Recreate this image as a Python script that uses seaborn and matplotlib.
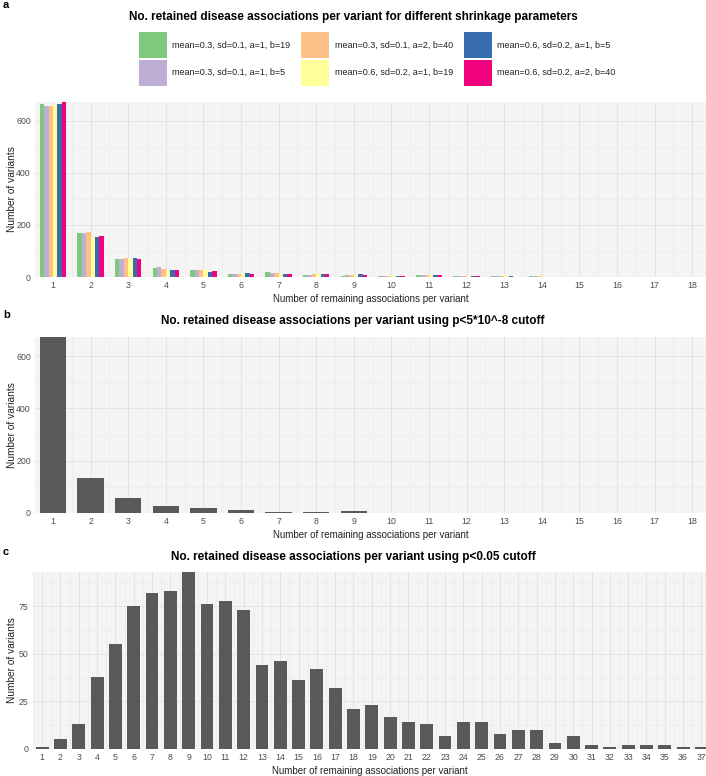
import numpy as np
import pandas as pd
import matplotlib
matplotlib.use("Agg")
import matplotlib.pyplot as plt
import seaborn as sns
from matplotlib.patches import Patch
from matplotlib.ticker import MultipleLocator

# ---------------- data ----------------
params = ["mean=0.3, sd=0.1, a=1, b=19", "mean=0.3, sd=0.1, a=1, b=5",
          "mean=0.3, sd=0.1, a=2, b=40", "mean=0.6, sd=0.2, a=1, b=19",
          "mean=0.6, sd=0.2, a=1, b=5", "mean=0.6, sd=0.2, a=2, b=40"]
param_colors = ["#7FC97F", "#BEAED4", "#FDC086", "#FFFF99", "#386CB0", "#F0027F"]

assoc_ab = list(range(1, 19))
m03_a1_b19 = [665, 170, 70, 36, 27, 10, 19, 9, 5, 4, 6, 5, 5, 4, 0, 0, 0, 1]
m03_a1_b5 = [658, 170, 70, 40, 25, 10, 17, 9, 6, 2, 8, 5, 4, 4, 1, 0, 0, 1]
m03_a2_b40 = [658, 174, 74, 32, 27, 13, 15, 10, 7, 3, 6, 5, 5, 4, 1, 0, 0, 0]
m06_a1_b19 = [661, 155, 68, 27, 27, 13, 12, 11, 9, 2, 6, 5, 6, 3, 1, 0, 0, 0]
m06_a1_b5 = [664, 153, 72, 27, 20, 16, 11, 10, 10, 4, 7, 3, 2, 1, 0, 0, 0, 0]
m06_a2_b40 = [673, 156, 69, 27, 24, 11, 11, 12, 6, 4, 7, 3, 1, 1, 0, 0, 0, 0]

gwas_counts = [673, 135, 59, 27, 18, 10, 5, 4, 6, 1, 1, 0, 0, 0, 0, 0, 0, 0]

assoc_c = list(range(1, 38))
nominal_counts = [1, 5, 13, 38, 55, 75, 82, 83, 93, 76, 78, 73, 44, 46, 36, 42, 32, 21,
                  23, 17, 14, 13, 7, 14, 14, 8, 10, 10, 3, 7, 2, 1, 2, 2, 2, 1, 1]

titles = ["No. retained disease associations per variant for different shrinkage parameters",
          "No. retained disease associations per variant using p<5*10^-8 cutoff",
          "No. retained disease associations per variant using p<0.05 cutoff"]
xlab = "Number of remaining associations per variant"
ylab = "Number of variants"

series_a = [m03_a1_b19, m03_a1_b5, m03_a2_b40, m06_a1_b19, m06_a1_b5, m06_a2_b40]
df_a = pd.DataFrame({
    "n": np.tile(assoc_ab, len(params)),
    "count": np.concatenate(series_a),
    "param": np.repeat(params, len(assoc_ab)),
})
df_b = pd.DataFrame({"n": assoc_ab, "count": gwas_counts})
df_c = pd.DataFrame({"n": assoc_c, "count": nominal_counts})

# ---------------- style ----------------
sns.set_theme(style="white")
plt.rcParams["font.family"] = ["Liberation Sans", "DejaVu Sans"]

W, H = 706, 776
fig = plt.figure(figsize=(W / 100, H / 100), dpi=100)

BG = "#F4F4F4"
GMAJ = "#E3E3E3"
GMIN = "#EBEBEB"
BAR = "#595959"


def style_ax(ax, ymaj, ymax, ncat, xleft, xright):
    ax.set_facecolor(BG)
    for s in ax.spines.values():
        s.set_visible(False)
    ax.set_ylim(0, ymax)
    ax.set_xlim(-xleft, ncat - 1 + xright)
    ax.yaxis.set_major_locator(MultipleLocator(ymaj))
    ax.yaxis.set_minor_locator(MultipleLocator(ymaj / 2))
    ax.xaxis.set_minor_locator(MultipleLocator(0.5))
    ax.grid(which="major", color=GMAJ, lw=0.7)
    ax.grid(which="minor", color=GMIN, lw=0.5)
    ax.set_axisbelow(True)
    ax.tick_params(which="both", length=0, labelsize=6.3, labelcolor="#4D4D4D", pad=3)
    ax.set_xlabel(xlab, fontsize=7, color="#222222", labelpad=2.5)
    ax.set_ylabel(ylab, fontsize=7.3, color="#222222")
    bb = ax.get_position()
    ax.yaxis.set_label_coords((12 / W - bb.x0) / bb.width, 0.5)
    ax.yaxis.label.set_va("center")


def pos(left, top, bottom):
    return [left / W, 1 - bottom / H, (W - left) / W, (bottom - top) / H]


# panel a
ax_a = fig.add_axes(pos(35, 102, 277))
sns.barplot(data=df_a, x="n", y="count", hue="param", hue_order=params,
            palette=param_colors, saturation=1, width=0.7, gap=0, linewidth=0,
            edgecolor="none", errorbar=None, legend=False, ax=ax_a)
style_ax(ax_a, 200, 673, 18, 0.48, 0.37)

# panel b
ax_b = fig.add_axes(pos(35, 337, 513))
sns.barplot(data=df_b, x="n", y="count", color=BAR, saturation=1, width=0.7,
            linewidth=0, edgecolor="none", errorbar=None, ax=ax_b)
style_ax(ax_b, 200, 673, 18, 0.48, 0.37)

# panel c
ax_c = fig.add_axes(pos(33, 572, 749))
sns.barplot(data=df_c, x="n", y="count", color=BAR, saturation=1, width=0.7,
            linewidth=0, edgecolor="none", errorbar=None, ax=ax_c)
style_ax(ax_c, 25, 93, 37, 0.5, 0.25)

# titles and panel letters
for t, y in zip(titles, [17, 321, 557]):
    fig.text(0.5, 1 - y / H, t, ha="center", va="center", fontsize=8.5,
             fontweight="bold", color="black")
for letter, y in zip(["a", "b", "c"], [5, 315, 552]):
    fig.text(3 / W, 1 - y / H, letter, ha="left", va="center", fontsize=8,
             fontweight="bold", color="black")

# legend for panel a
handles = [Patch(facecolor=c, edgecolor="none") for c in param_colors]
fig.legend(handles, params, loc="center", bbox_to_anchor=(377 / W, 1 - 59 / H),
           ncol=3, frameon=False, fontsize=6.5, handlelength=3.1, handleheight=4.05,
           labelspacing=0.2, columnspacing=1.2, handletextpad=0.6,
           labelcolor="#222222")

fig.savefig("out.png", dpi=100)
